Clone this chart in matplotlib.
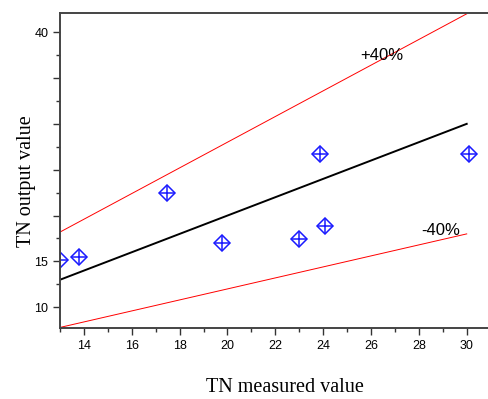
import numpy as np
import matplotlib
matplotlib.use("Agg")
import matplotlib.pyplot as plt

# measured vs model output (TN)
measured = [13.0, 13.79, 17.48, 19.78, 22.99, 23.88, 24.09, 30.09]
output = [15.1, 15.46, 22.44, 17.02, 17.46, 26.73, 18.81, 26.73]

line_x = [13, 30]
yticks = [10, 15, 20, 25, 30, 35, 40]
ytick_labels = ["10", "15", "", "", "", "", "40"]
xticks = [14, 16, 18, 20, 22, 24, 26, 28, 30]

fig = plt.figure(figsize=(4.88, 3.99), dpi=100)
ax = fig.add_axes([0.123, 0.178, 0.877, 0.789])

lx = np.array(line_x, dtype=float)
ax.plot(lx, lx, color="black", lw=1.4)
ax.plot(lx, lx * 1.4, color="red", lw=0.7)
ax.plot(lx, lx * 0.6, color="red", lw=0.7)

ax.plot(measured, output, linestyle="none", marker="D", markersize=8.2,
        markerfacecolor="none", markeredgecolor="#1a1aff", markeredgewidth=1.1,
        clip_on=True)
ax.plot(measured, output, linestyle="none", marker="+", markersize=11.5,
        markeredgecolor="#1a1aff", markeredgewidth=1.1, clip_on=True)

ax.text(25.57, 37.5, "+40%", fontsize=12, family="Liberation Sans", ha="left", va="center")
ax.text(28.9, 18.4, "-40%", fontsize=12, family="Liberation Sans", ha="center", va="center")

ax.set_xlim(13.0, 30.89)
ax.set_ylim(7.74, 42.07)
ax.set_xticks(xticks)
ax.set_xticks(np.arange(13, 31, 1), minor=True)
ax.set_yticks(yticks)
ax.set_yticklabels(ytick_labels)
ax.set_yticks(np.arange(10, 42.1, 2.5), minor=True)

for s in ["left", "bottom", "top"]:
    ax.spines[s].set_color("#444444")
    ax.spines[s].set_linewidth(1.4)
ax.spines["right"].set_visible(False)
ax.tick_params(which="major", direction="out", length=5, width=1, colors="#333333",
               labelsize=9, labelcolor="black")
ax.tick_params(which="minor", direction="out", length=3, width=1, colors="#333333")
ax.tick_params(top=False, right=False)
for lab in ax.get_xticklabels() + ax.get_yticklabels():
    lab.set_family("Liberation Sans")

ax.set_xlabel("TN measured value", family="Liberation Serif", fontsize=14.5, labelpad=19)
ax.set_ylabel("TN output value", family="Liberation Serif", fontsize=14.5, labelpad=-1)
ax.xaxis.label.set_x(0.526)
ax.yaxis.label.set_y(0.465)

fig.savefig("out.png", dpi=100)
